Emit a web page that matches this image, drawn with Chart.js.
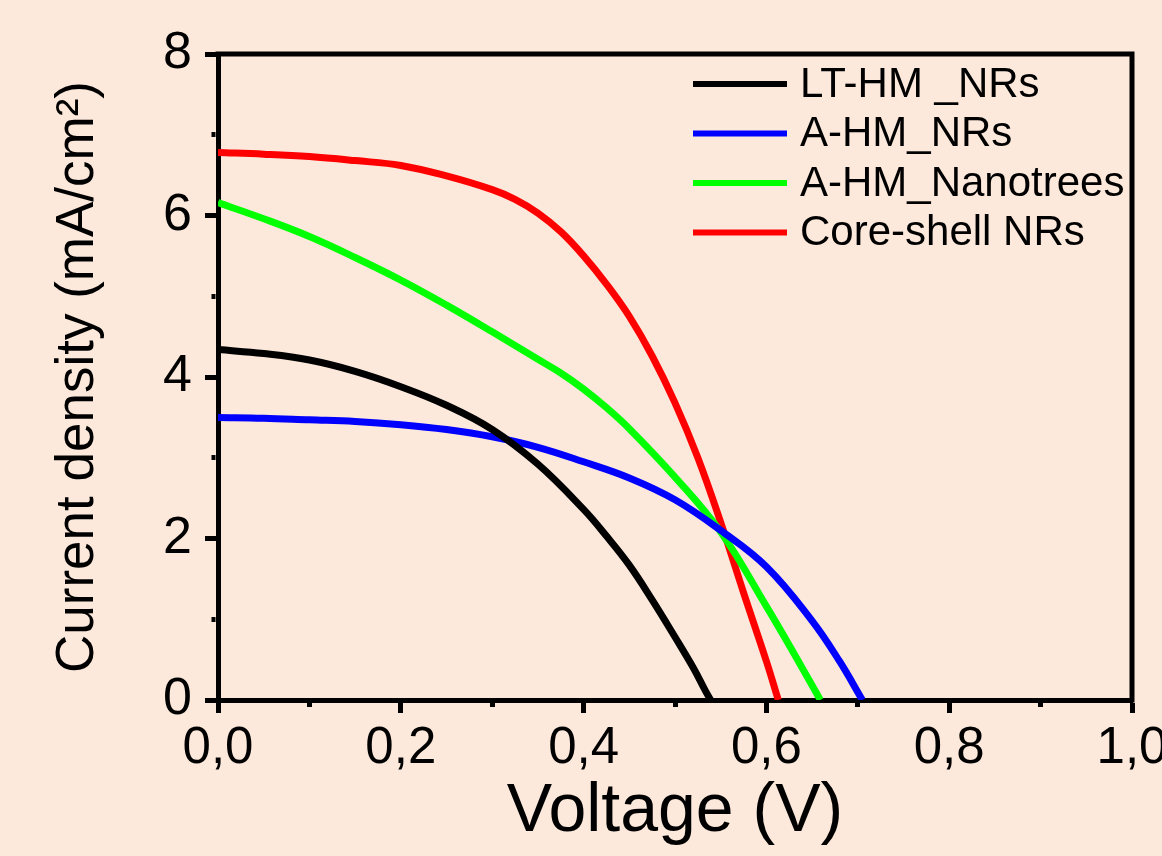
<!DOCTYPE html>
<html>
<head>
<meta charset="utf-8">
<script src="https://cdn.jsdelivr.net/npm/chart.js@4/dist/chart.umd.min.js"></script>
<style>
    html, body { margin: 0; padding: 0; background: #FCE9DC; }
    #wrap { width: 1162px; height: 856px; }
</style>
</head>
<body>
<div id="wrap"><canvas id="jvChart"></canvas></div>
<script>
// J-V curves (V, mA/cm2)
const seriesNames = ['LT-HM _NRs', 'A-HM_NRs', 'A-HM_Nanotrees', 'Core-shell NRs'];
const seriesColors = ['#000000', '#0000FF', '#00FF00', '#FF0000'];

const voltageLT = [0, 0.05, 0.1, 0.15, 0.2, 0.25, 0.3, 0.35, 0.4, 0.425, 0.45, 0.475, 0.5, 0.52, 0.533, 0.539];
const currentLT = [4.34, 4.29, 4.21, 4.07, 3.88, 3.65, 3.35, 2.92, 2.36, 2.03, 1.67, 1.24, 0.78, 0.40, 0.12, 0];

const voltageAHM = [0, 0.05, 0.1, 0.15, 0.2, 0.25, 0.3, 0.35, 0.4, 0.45, 0.5, 0.55, 0.6, 0.65, 0.68, 0.705];
const currentAHM = [3.50, 3.49, 3.47, 3.45, 3.41, 3.35, 3.26, 3.13, 2.95, 2.75, 2.48, 2.10, 1.65, 0.98, 0.48, 0];

const voltageNT = [0, 0.05, 0.1, 0.15, 0.2, 0.25, 0.3, 0.35, 0.375, 0.4, 0.425, 0.45, 0.5, 0.55, 0.6, 0.63, 0.659];
const currentNT = [6.16, 5.96, 5.74, 5.48, 5.20, 4.89, 4.56, 4.22, 4.05, 3.85, 3.62, 3.36, 2.76, 2.08, 1.16, 0.58, 0];

const voltageCS = [0, 0.05, 0.1, 0.15, 0.2, 0.25, 0.3, 0.325, 0.35, 0.375, 0.4, 0.425, 0.45, 0.475, 0.5, 0.525, 0.55, 0.575, 0.6, 0.613];
const currentCS = [6.78, 6.76, 6.73, 6.68, 6.62, 6.49, 6.32, 6.20, 6.03, 5.80, 5.50, 5.15, 4.75, 4.26, 3.68, 3.00, 2.20, 1.33, 0.48, 0];

const xTickLabels = ['0,0', '0,2', '0,4', '0,6', '0,8', '1,0'];
const yTickLabels = ['0', '2', '4', '6', '8'];

const FONT = "'Liberation Sans', Arial, sans-serif";

const toPoints = (xs, ys) => xs.map((x, i) => ({ x, y: ys[i] }));
const allSeries = [
    toPoints(voltageLT, currentLT),
    toPoints(voltageAHM, currentAHM),
    toPoints(voltageNT, currentNT),
    toPoints(voltageCS, currentCS)
];

// top + right frame lines
const framePlugin = {
    id: 'frame',
    afterDraw(chart) {
        const { ctx, chartArea: a } = chart;
        ctx.save();
        ctx.strokeStyle = '#000';
        ctx.lineWidth = 5;
        ctx.beginPath();
        ctx.moveTo(a.left - 2.5, a.top);
        ctx.lineTo(a.right, a.top);
        ctx.lineTo(a.right, a.bottom + 2.5);
        ctx.stroke();
        ctx.restore();
    }
};

// legend drawn inside the plot, top right
const legendPlugin = {
    id: 'innerLegend',
    afterDatasetsDraw(chart) {
        const { ctx, chartArea: a } = chart;
        const x0 = a.right - 439;
        ctx.save();
        ctx.font = `42px ${FONT}`;
        ctx.textBaseline = 'middle';
        ctx.textAlign = 'left';
        chart.data.datasets.forEach((ds, i) => {
            const y = a.top + 30 + i * 49.5;
            ctx.strokeStyle = ds.borderColor;
            ctx.lineWidth = 6;
            ctx.beginPath();
            ctx.moveTo(x0, y);
            ctx.lineTo(x0 + 94, y);
            ctx.stroke();
            ctx.fillStyle = '#000';
            ctx.fillText(ds.label, x0 + 107, y + 1);
        });
        ctx.restore();
    }
};

const isMinor = (v, step) => Math.round(v / step) % 2 === 1;

new Chart(document.getElementById('jvChart'), {
    type: 'line',
    data: {
        datasets: allSeries.map((pts, i) => ({
            label: seriesNames[i],
            data: pts,
            borderColor: seriesColors[i],
            backgroundColor: seriesColors[i],
            borderWidth: 7,
            pointRadius: 0,
            tension: 0.4,
            fill: false
        }))
    },
    options: {
        responsive: true,
        maintainAspectRatio: false,
        animation: false,
        layout: { padding: { top: 54, right: 30, left: 0, bottom: 0 }, autoPadding: false },
        plugins: { legend: { display: false }, tooltip: { enabled: false } },
        scales: {
            x: {
                type: 'linear',
                min: 0,
                max: 1,
                afterFit: s => {
                    s.height = 156;
                    s.paddingLeft = 0;
                    s.paddingRight = 0;
                },
                border: { display: true, color: '#000', width: 5 },
                grid: {
                    drawOnChartArea: false,
                    drawTicks: true,
                    tickLength: 13,
                    tickWidth: 5,
                    tickColor: '#000',
                    tickBorderDash: c => (c.tick && isMinor(c.tick.value, 0.1)) ? [4, 100] : []
                },
                ticks: {
                    stepSize: 0.1,
                    autoSkip: false,
                    maxRotation: 0,
                    padding: 5,
                    color: '#000',
                    font: { family: FONT, size: 51 },
                    callback: v => isMinor(v, 0.1) ? '' : xTickLabels[Math.round(v / 0.2)]
                },
                title: {
                    display: true,
                    text: 'Voltage (V)',
                    color: '#000',
                    font: { family: FONT, size: 68 },
                    padding: { top: 0, bottom: 3 }
                }
            },
            y: {
                type: 'linear',
                min: 0,
                max: 8,
                afterFit: s => {
                    s.width = 218;
                    s.paddingTop = 0;
                    s.paddingBottom = 0;
                },
                border: { display: true, color: '#000', width: 5 },
                grid: {
                    drawOnChartArea: false,
                    drawTicks: true,
                    tickLength: 13,
                    tickWidth: 5,
                    tickColor: '#000',
                    tickBorderDash: c => (c.tick && isMinor(c.tick.value, 1)) ? [0, 6.5, 4, 100] : []
                },
                ticks: {
                    stepSize: 1,
                    autoSkip: false,
                    padding: 13,
                    color: '#000',
                    font: { family: FONT, size: 52 },
                    callback: v => isMinor(v, 1) ? '' : yTickLabels[Math.round(v / 2)]
                },
                title: {
                    display: true,
                    text: 'Current density (mA/cm²)',
                    color: '#000',
                    font: { family: FONT, size: 53 },
                    padding: { top: 47, bottom: 0 }
                }
            }
        }
    },
    plugins: [framePlugin, legendPlugin]
});
</script>
</body>
</html>
